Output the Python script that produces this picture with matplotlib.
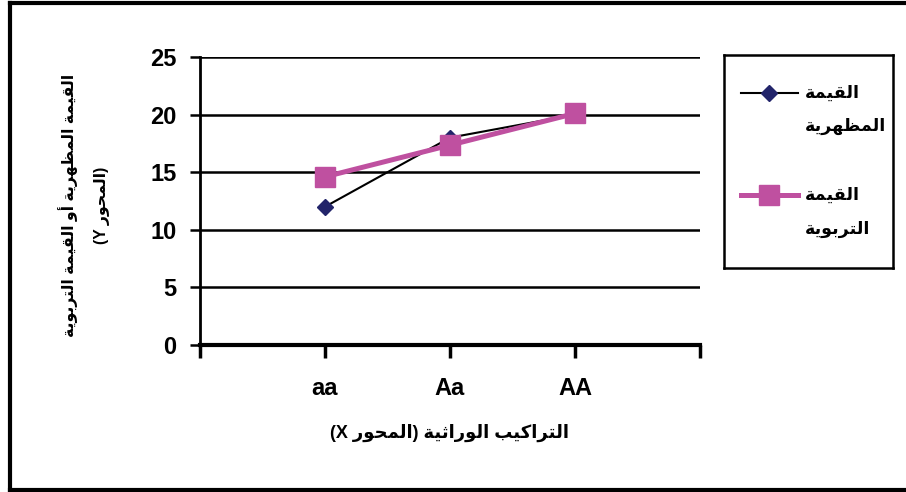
import re
import matplotlib
matplotlib.use("Agg")
import matplotlib.pyplot as plt
from matplotlib.lines import Line2D

plt.rcParams['font.family'] = ['Liberation Sans', 'DejaVu Sans']

# ---- data ----
genotypes = ['aa', 'Aa', 'AA']
phenotypic = [12.0, 18.0, 20.0]
breeding = [14.6, 17.35, 20.1]
yticks = [0, 5, 10, 15, 20, 25]

ylabel_1 = 'القيمة المظهرية أو القيمة التربوية'
ylabel_2 = '(المحور Y)'
xlabel = 'التراكيب الوراثية (المحور X)'
legend_1 = ['القيمة', 'المظهرية']
legend_2 = ['القيمة', 'التربوية']

# ---- minimal Arabic shaping (presentation forms) ----
FORMS = {
    '\u0627': ('\uFE8D', '\uFE8E', None, None),
    '\u0623': ('\uFE83', '\uFE84', None, None),
    '\u0628': ('\uFE8F', '\uFE90', '\uFE91', '\uFE92'),
    '\u0629': ('\uFE93', '\uFE94', None, None),
    '\u062A': ('\uFE95', '\uFE96', '\uFE97', '\uFE98'),
    '\u062B': ('\uFE99', '\uFE9A', '\uFE9B', '\uFE9C'),
    '\u062D': ('\uFEA1', '\uFEA2', '\uFEA3', '\uFEA4'),
    '\u0631': ('\uFEAD', '\uFEAE', None, None),
    '\u0638': ('\uFEC5', '\uFEC6', '\uFEC7', '\uFEC8'),
    '\u0642': ('\uFED5', '\uFED6', '\uFED7', '\uFED8'),
    '\u0643': ('\uFED9', '\uFEDA', '\uFEDB', '\uFEDC'),
    '\u0644': ('\uFEDD', '\uFEDE', '\uFEDF', '\uFEE0'),
    '\u0645': ('\uFEE1', '\uFEE2', '\uFEE3', '\uFEE4'),
    '\u0647': ('\uFEE9', '\uFEEA', '\uFEEB', '\uFEEC'),
    '\u0648': ('\uFEED', '\uFEEE', None, None),
    '\u064A': ('\uFEF1', '\uFEF2', '\uFEF3', '\uFEF4'),
}


def shape(s):
    out = []
    for i, c in enumerate(s):
        if c not in FORMS:
            out.append(c)
            continue
        f = FORMS[c]
        prev = s[i - 1] if i > 0 else ''
        nxt = s[i + 1] if i + 1 < len(s) else ''
        jp = prev in FORMS and FORMS[prev][2] is not None
        jn = nxt in FORMS and f[2] is not None
        if jp and jn:
            out.append(f[3])
        elif jp:
            out.append(f[1])
        elif jn:
            out.append(f[2])
        else:
            out.append(f[0])
    return ''.join(out)


def rtl(s):
    t = shape(s)[::-1]
    t = t.translate(str.maketrans('()', ')('))
    t = re.sub(r'[A-Za-z0-9]+', lambda m: m.group(0)[::-1], t)
    return t


W, H = 906, 492
fig = plt.figure(figsize=(W / 100, H / 100), dpi=100)

PINK = '#BF50A0'
NAVY = '#22246a'

ax = fig.add_axes([200 / W, 1 - 345 / H, 500 / W, 288 / H])
x = list(range(1, len(genotypes) + 1))
ax.plot(x, phenotypic, color='black', lw=1.5, marker='D', ms=8,
        mfc=NAVY, mec=NAVY, zorder=3, clip_on=False)
ax.plot(x, breeding, color=PINK, lw=3.6, marker='s', ms=15,
        mfc=PINK, mec=PINK, zorder=4, clip_on=False)

ax.set_xlim(0, len(genotypes) + 1)
ax.set_ylim(0, 25)
ax.set_yticks(yticks)
ax.set_yticklabels([str(v) for v in yticks], fontsize=17, fontweight='bold')
ax.set_xticks(range(0, len(genotypes) + 2))
ax.set_xticklabels([''] + genotypes + [''], fontsize=17, fontweight='bold')
ax.tick_params(axis='y', length=7, width=1.8, pad=10)
ax.tick_params(axis='x', length=9, width=2.5, pad=14)
ax.yaxis.grid(True, color='black', lw=1.8)
ax.set_axisbelow(True)
for s in ['top', 'right']:
    ax.spines[s].set_visible(False)
ax.spines['left'].set_linewidth(2)
ax.spines['bottom'].set_linewidth(3)

fig.text(450 / W, 1 - 433 / H, rtl(xlabel), ha='center', va='center',
         fontsize=13, fontweight='bold')
fig.text(68 / W, 1 - 205 / H, rtl(ylabel_1), ha='center', va='center',
         rotation=90, fontsize=11.3, fontweight='bold')
fig.text(102 / W, 1 - 205 / H, rtl(ylabel_2), ha='center', va='center',
         rotation=90, fontsize=11.3, fontweight='bold')

# ---- legend box ----
lax = fig.add_axes([724 / W, 1 - 268 / H, 169 / W, 213 / H])
lax.set_xlim(724, 893)
lax.set_ylim(268, 55)
lax.set_xticks([])
lax.set_yticks([])
for s in lax.spines.values():
    s.set_linewidth(1.8)
lax.add_line(Line2D([741, 769, 798], [93, 93, 93], color='black', lw=1.5,
                    marker='D', ms=8, mfc=NAVY, mec=NAVY, markevery=[1]))
lax.add_line(Line2D([741, 769, 798], [195, 195, 195], color=PINK, lw=3.6,
                    marker='s', ms=15, mfc=PINK, mec=PINK, markevery=[1]))
for ypos, txt in zip([93, 126, 195, 229], legend_1 + legend_2):
    lax.text(805, ypos, rtl(txt), ha='left', va='center',
             fontsize=12.6, fontweight='bold')

# ---- outer frame ----
fig.add_artist(Line2D([10 / W, 10 / W], [0, 1 - 3 / H], color='black',
                      lw=3, transform=fig.transFigure))
fig.add_artist(Line2D([10 / W, 1], [1 - 3 / H, 1 - 3 / H], color='black',
                      lw=3, transform=fig.transFigure))
fig.add_artist(Line2D([10 / W, 1], [1 - 490 / H, 1 - 490 / H], color='black',
                      lw=3, transform=fig.transFigure))

fig.savefig('out.png', dpi=100)
